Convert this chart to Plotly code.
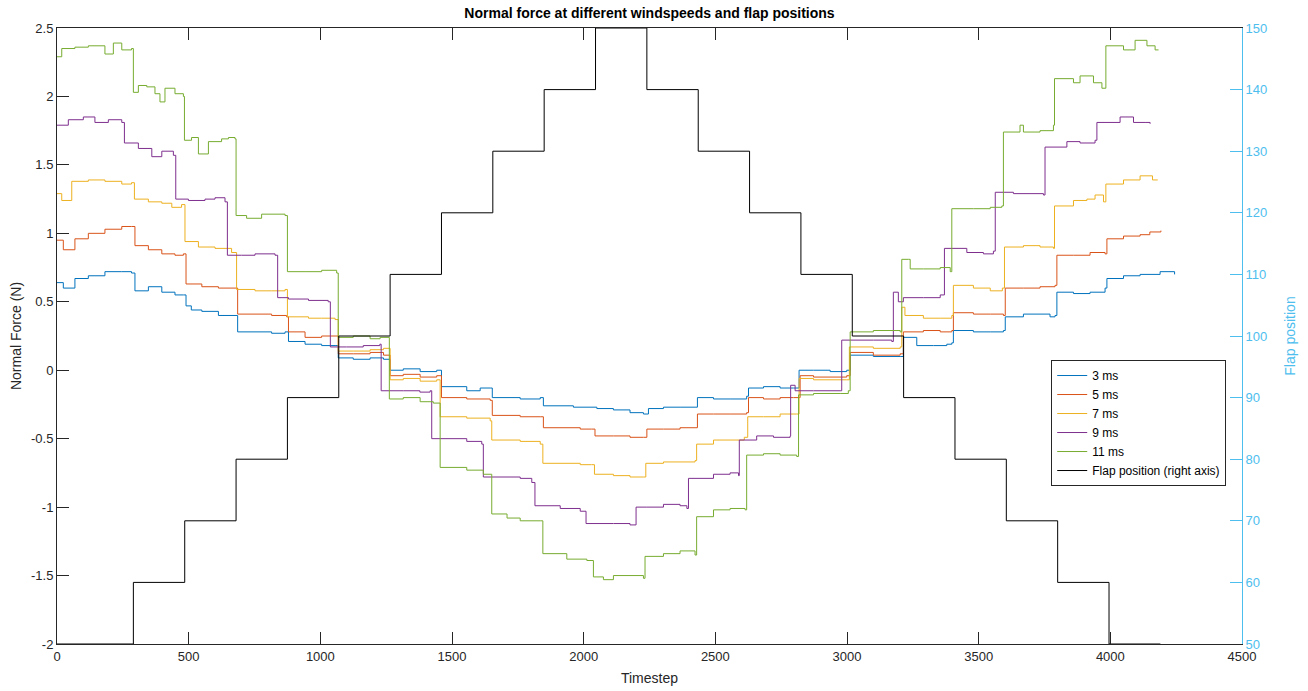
import plotly.graph_objects as go

# Timestep / normal force readings (N) for each wind speed
t_3ms = [0, 24, 68, 119, 182, 246, 283,
         296, 347, 398, 448, 480,
         490, 510, 550, 613, 676,
         686, 752, 815, 866,
         879, 942, 1005, 1056,
         1068, 1125, 1189, 1240,
         1265, 1315, 1379, 1442,
         1460, 1556, 1607, 1645,
         1653, 1759, 1835,
         1847, 1961, 2050, 2113, 2176, 2227,
         2246, 2303, 2366, 2423,
         2432, 2493, 2556, 2619,
         2626, 2683, 2746, 2797,
         2818, 2873, 2936, 2999,
         3012, 3100, 3202,
         3214, 3265, 3329, 3379, 3398,
         3404, 3480, 3544, 3594,
         3601, 3670, 3733, 3771, 3790,
         3797, 3860, 3923, 3980,
         3987, 4050, 4113, 4189, 4244]
fn_3ms = [0.64, 0.60, 0.67, 0.69, 0.72, 0.72, 0.71,
          0.58, 0.61, 0.57, 0.55, 0.55,
          0.47, 0.44, 0.43, 0.40, 0.40,
          0.28, 0.28, 0.27, 0.28,
          0.21, 0.19, 0.18, 0.18,
          0.09, 0.08, 0.09, 0.08,
          0.00, 0.01, -0.01, 0.00,
          -0.12, -0.15, -0.13, -0.13,
          -0.20, -0.21, -0.20,
          -0.26, -0.27, -0.28, -0.29, -0.31, -0.32,
          -0.28, -0.27, -0.27, -0.27,
          -0.20, -0.21, -0.21, -0.19,
          -0.13, -0.12, -0.13, -0.13,
          0.00, 0.00, -0.01, 0.00,
          0.11, 0.10, 0.10,
          0.24, 0.18, 0.18, 0.19, 0.20,
          0.29, 0.28, 0.28, 0.29,
          0.39, 0.41, 0.41, 0.39, 0.40,
          0.57, 0.56, 0.57, 0.60,
          0.67, 0.69, 0.70, 0.72, 0.70]

t_5ms = [0, 24, 68, 119, 182, 246, 283,
         296, 347, 398, 448, 480,
         490, 550, 613, 676,
         686, 752, 815, 872,
         879, 942, 1005, 1056,
         1068, 1125, 1189, 1240,
         1265, 1315, 1379, 1442,
         1460, 1556, 1645,
         1653, 1759, 1835,
         1847, 1987, 2030,
         2043, 2113, 2176, 2227,
         2240, 2303, 2366, 2423,
         2432, 2493, 2556, 2619,
         2626, 2683, 2746, 2797,
         2822, 2873, 2999,
         3012, 3100, 3202,
         3214, 3290, 3354, 3398,
         3404, 3480, 3544, 3594,
         3601, 3670, 3733, 3790,
         3797, 3860, 3923, 3980,
         3987, 4050, 4113, 4150, 4192]
fn_5ms = [0.95, 0.88, 0.96, 1.00, 1.03, 1.05, 1.05,
          0.91, 0.88, 0.85, 0.84, 0.85,
          0.63, 0.61, 0.60, 0.60,
          0.41, 0.41, 0.40, 0.39,
          0.28, 0.24, 0.25, 0.25,
          0.12, 0.12, 0.13, 0.11,
          -0.04, -0.03, -0.05, -0.04,
          -0.20, -0.21, -0.22,
          -0.33, -0.34, -0.34,
          -0.42, -0.43, -0.43,
          -0.48, -0.48, -0.49, -0.49,
          -0.43, -0.43, -0.42, -0.42,
          -0.32, -0.32, -0.32, -0.31,
          -0.20, -0.21, -0.20, -0.20,
          -0.04, -0.05, -0.04,
          0.13, 0.11, 0.12,
          0.28, 0.29, 0.28, 0.29,
          0.42, 0.41, 0.41, 0.40,
          0.60, 0.60, 0.61, 0.62,
          0.84, 0.84, 0.86, 0.85,
          0.96, 0.98, 0.99, 1.01, 1.02]

t_7ms = [0, 18, 56, 119, 182, 246, 283,
         294, 347, 398, 436, 473,
         486, 537, 600, 663,
         682, 752, 815, 866,
         875, 955, 1005, 1056,
         1068, 1125, 1189, 1240,
         1265, 1315, 1379, 1442,
         1455, 1556, 1645,
         1651, 1759, 1835,
         1845, 1987, 2030,
         2041, 2113, 2176, 2227,
         2236, 2303, 2366, 2423,
         2429, 2493, 2556, 2610,
         2623, 2683, 2746, 2809,
         2818, 2873, 2999,
         3009, 3100, 3202,
         3208, 3220, 3290, 3354, 3398,
         3404, 3480, 3544, 3590,
         3598, 3670, 3733, 3784,
         3788, 3860, 3911, 3942, 3974,
         3983, 4050, 4113, 4160, 4180]
fn_7ms = [1.29, 1.24, 1.38, 1.39, 1.38, 1.36, 1.37,
          1.25, 1.23, 1.22, 1.19, 1.21,
          0.94, 0.90, 0.89, 0.86,
          0.59, 0.58, 0.58, 0.59,
          0.39, 0.38, 0.38, 0.37,
          0.14, 0.14, 0.15, 0.16,
          -0.07, -0.06, -0.08, -0.07,
          -0.34, -0.35, -0.37,
          -0.51, -0.52, -0.54,
          -0.68, -0.69, -0.69,
          -0.76, -0.77, -0.78, -0.78,
          -0.68, -0.67, -0.67, -0.66,
          -0.54, -0.51, -0.51, -0.49,
          -0.34, -0.34, -0.32, -0.32,
          -0.06, -0.07, -0.07,
          0.17, 0.16, 0.17,
          0.46, 0.40, 0.38, 0.38, 0.40,
          0.62, 0.60, 0.58, 0.60,
          0.90, 0.91, 0.90, 0.89,
          1.20, 1.24, 1.25, 1.28, 1.23,
          1.36, 1.39, 1.42, 1.39, 1.39]

t_9ms = [0, 43, 100, 144, 195, 246,
         256, 309, 360, 398, 442,
         451, 499, 562, 600, 638,
         647, 701, 752, 828,
         838, 879, 955, 1030,
         1038, 1100, 1163, 1226,
         1231, 1315, 1378, 1417,
         1423, 1556, 1613,
         1619, 1759, 1803,
         1815, 1911, 1987,
         2009, 2113, 2176,
         2199, 2240, 2303, 2366, 2392,
         2398, 2493, 2556, 2588,
         2591, 2657, 2721, 2784,
         2786, 2803, 2873, 2974,
         2980, 3100, 3170,
         3176, 3195, 3214, 3290, 3354,
         3370, 3455, 3518, 3556,
         3563, 3632, 3695, 3746,
         3752, 3835, 3885, 3942,
         3949, 4037, 4088, 4132, 4151]
fn_9ms = [1.79, 1.83, 1.85, 1.81, 1.83, 1.81,
          1.66, 1.62, 1.56, 1.60, 1.57,
          1.25, 1.24, 1.25, 1.26, 1.23,
          0.84, 0.84, 0.85, 0.84,
          0.53, 0.52, 0.51, 0.50,
          0.17, 0.17, 0.18, 0.19,
          -0.15, -0.15, -0.16, -0.15,
          -0.50, -0.52, -0.54,
          -0.78, -0.79, -0.82,
          -0.99, -1.01, -1.03,
          -1.12, -1.12, -1.13,
          -1.00, -1.00, -0.98, -0.99, -1.01,
          -0.79, -0.76, -0.75, -0.77,
          -0.51, -0.48, -0.49, -0.48,
          -0.11, -0.15, -0.15, -0.15,
          0.22, 0.22, 0.21,
          0.57, 0.50, 0.53, 0.53, 0.55,
          0.89, 0.86, 0.85, 0.87,
          1.30, 1.29, 1.29, 1.28,
          1.63, 1.67, 1.66, 1.68,
          1.81, 1.85, 1.81, 1.81, 1.80]

t_11ms = [0, 18, 68, 119, 182, 214, 246, 283,
          290, 309, 341, 372, 391, 410, 448, 480,
          484, 511, 537, 575, 625, 651, 676,
          680, 720, 777, 866,
          875, 942, 1005, 1062,
          1068, 1125, 1189, 1227,
          1262, 1315, 1379, 1429,
          1455, 1556, 1619,
          1651, 1709, 1759, 1835,
          1845, 1936, 2012,
          2037, 2075, 2113, 2176, 2227,
          2233, 2303, 2366, 2423,
          2429, 2493, 2556, 2613,
          2619, 2683, 2746, 2809,
          2816, 2873, 2974, 3005,
          3012, 3100, 3202,
          3208, 3233, 3240, 3290, 3354, 3392,
          3398, 3480, 3544, 3588,
          3594, 3657, 3670, 3733, 3784,
          3788, 3860, 3885, 3936, 3968,
          3983, 4050, 4094, 4139, 4170, 4183]
fn_11ms = [2.29, 2.35, 2.36, 2.37, 2.31, 2.39, 2.34, 2.35,
           2.03, 2.08, 2.07, 2.02, 1.96, 2.06, 2.02, 2.00,
           1.68, 1.70, 1.58, 1.67, 1.69, 1.70, 1.69,
           1.13, 1.11, 1.14, 1.13,
           0.72, 0.72, 0.73, 0.71,
           0.24, 0.25, 0.23, 0.24,
           -0.21, -0.20, -0.23, -0.24,
           -0.71, -0.73, -0.76,
           -1.05, -1.08, -1.10, -1.10,
           -1.34, -1.38, -1.39,
           -1.51, -1.53, -1.50, -1.50, -1.52,
           -1.36, -1.34, -1.32, -1.35,
           -1.07, -1.02, -1.01, -1.02,
           -0.62, -0.61, -0.62, -0.63,
           -0.18, -0.17, -0.17, -0.15,
           0.28, 0.29, 0.28,
           0.81, 0.81, 0.74, 0.74, 0.75, 0.72,
           1.18, 1.18, 1.19, 1.20,
           1.74, 1.79, 1.74, 1.75, 1.79,
           2.13, 2.10, 2.15, 2.10, 2.06,
           2.37, 2.34, 2.41, 2.37, 2.34, 2.34]

# Flap position (right axis): timestep where each setting starts
flap_t = [0, 290, 485, 680, 875, 1070, 1265, 1460, 1655, 1850, 2045,
          2240, 2435, 2630, 2825, 3020, 3215, 3410, 3605, 3800, 3995, 4190]
flap_pos = [50, 60, 70, 80, 90, 100, 110, 120, 130, 140, 150,
            140, 130, 120, 110, 100, 90, 80, 70, 60, 50, 50]

series_names = ["3 ms", "5 ms", "7 ms", "9 ms", "11 ms"]
series_t = [t_3ms, t_5ms, t_7ms, t_9ms, t_11ms]
series_f = [fn_3ms, fn_5ms, fn_7ms, fn_9ms, fn_11ms]
series_colors = ["#0072BD", "#D95319", "#EDB120", "#7E2F8E", "#77AC30"]

y_ticks = [-2, -1.5, -1, -0.5, 0, 0.5, 1, 1.5, 2, 2.5]
y_tick_text = ["-2", "-1.5", "-1", "-0.5", "0", "0.5", "1", "1.5", "2", "2.5"]
x_ticks = [0, 500, 1000, 1500, 2000, 2500, 3000, 3500, 4000, 4500]
flap_ticks = [50, 60, 70, 80, 90, 100, 110, 120, 130, 140, 150]

FONT = "Liberation Sans, Arial, Helvetica, sans-serif"
AXIS_GREY = "#262626"
RIGHT_BLUE = "#4DBEEE"

fig = go.Figure()
for name, ts, fs, col in zip(series_names, series_t, series_f, series_colors):
    fig.add_trace(go.Scatter(x=ts, y=fs, name=name, mode="lines",
                             line=dict(color=col, width=1, shape="hv")))

fig.add_trace(go.Scatter(x=flap_t, y=flap_pos, name="Flap position (right axis)",
                         mode="lines", yaxis="y2",
                         line=dict(color="#000000", width=1, shape="hv")))

fig.update_layout(
    width=1308, height=691,
    margin=dict(l=57, r=66, t=28, b=47),
    paper_bgcolor="white", plot_bgcolor="white",
    font=dict(family=FONT, size=13, color=AXIS_GREY),
    title=dict(text="Normal force at different windspeeds and flap positions",
               x=0.5, xref="paper", xanchor="center",
               y=1 - 13 / 691, yref="container", yanchor="middle",
               font=dict(family=FONT, size=14, color="#000000", weight="bold")),
    xaxis=dict(range=[0, 4500], tickvals=x_ticks, ticks="inside", ticklen=12,
               tickcolor=AXIS_GREY, showline=True, linecolor=AXIS_GREY, linewidth=1,
               mirror="ticks", showgrid=False, zeroline=False, automargin=False,
               tickfont=dict(size=13, color=AXIS_GREY),
               title=dict(text="Timestep", standoff=10,
                          font=dict(size=14, color=AXIS_GREY))),
    yaxis=dict(range=[-2, 2.5], tickvals=y_ticks, ticktext=y_tick_text,
               ticks="inside", ticklen=12, tickcolor=AXIS_GREY, showline=True,
               linecolor=AXIS_GREY, linewidth=1, showgrid=False, zeroline=False,
               automargin=False,
               tickfont=dict(size=13, color=AXIS_GREY),
               title=dict(text="Normal Force (N)", standoff=6,
                          font=dict(size=14, color=AXIS_GREY))),
    yaxis2=dict(range=[50, 150], tickvals=flap_ticks, overlaying="y", side="right",
                ticks="inside", ticklen=12, tickcolor=RIGHT_BLUE, showline=True,
                linecolor=RIGHT_BLUE, linewidth=1, showgrid=False, zeroline=False,
                automargin=False,
                tickfont=dict(size=13, color=RIGHT_BLUE),
                title=dict(text="Flap position", standoff=18,
                           font=dict(size=14, color=RIGHT_BLUE))),
    legend=dict(x=0.839, y=0.461, xanchor="left", yanchor="top",
                bgcolor="white", bordercolor=AXIS_GREY, borderwidth=1,
                font=dict(size=12, color="#000000"), tracegroupgap=0),
    showlegend=True,
)

fig.write_html("out.html")
